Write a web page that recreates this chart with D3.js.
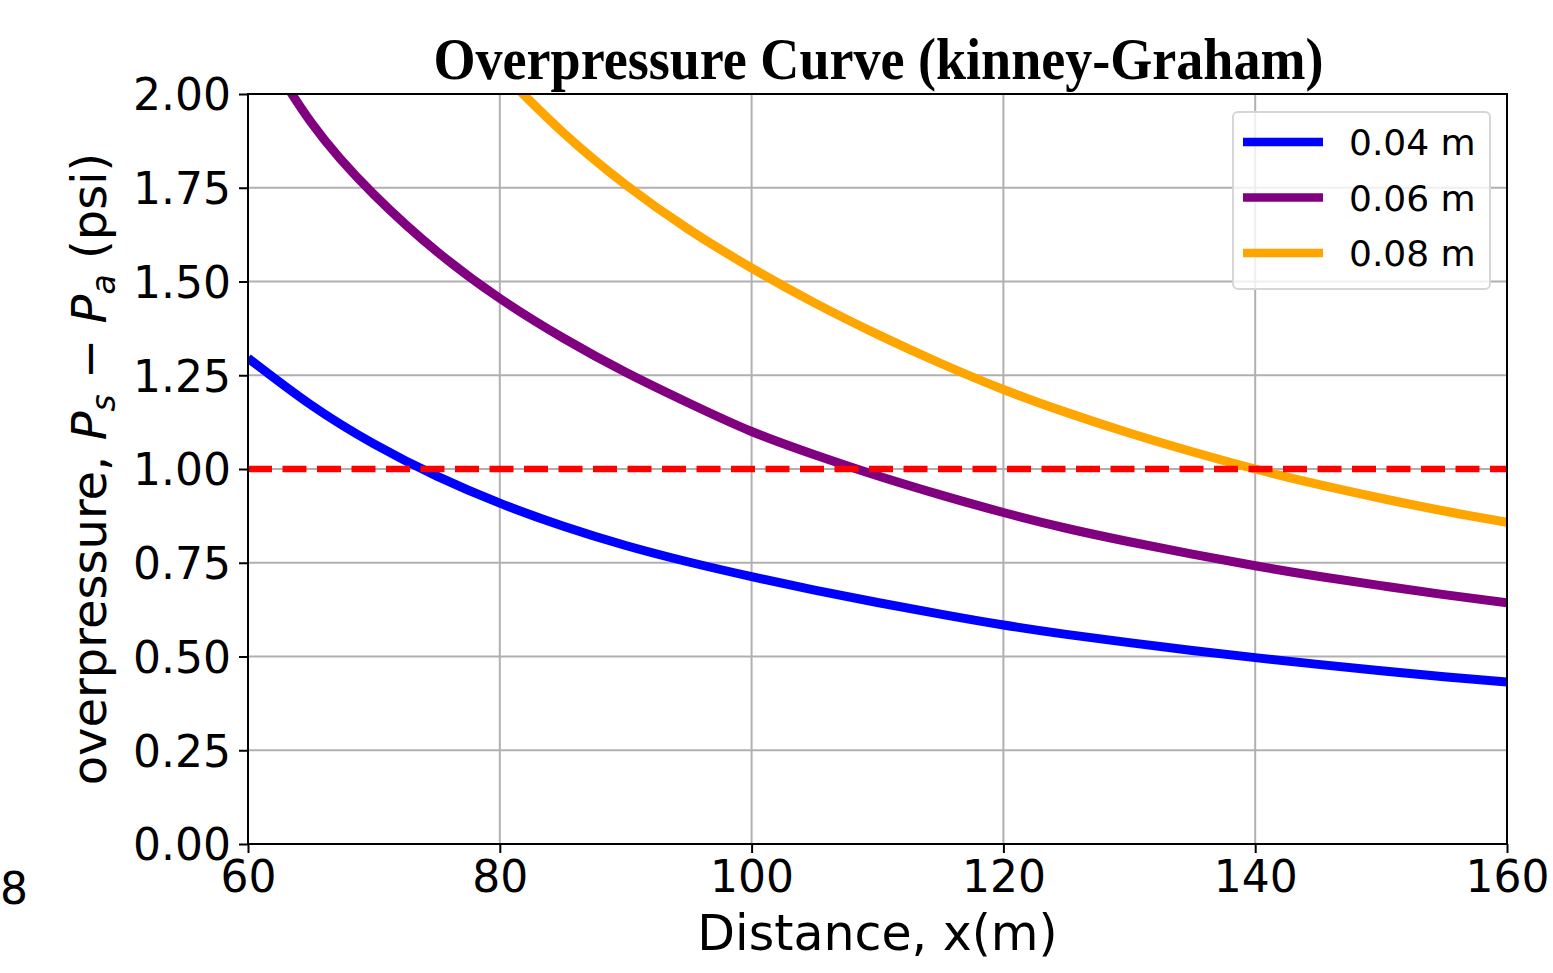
<!DOCTYPE html>
<html>
<head>
<meta charset="utf-8">
<script src="https://cdn.jsdelivr.net/npm/d3@7"></script>
<style>
body { margin: 0; background: #fff; }
svg { display: block; }
</style>
</head>
<body>
<div class="chart"></div>
<script>
var distance = [60,65,70,75,80,85,90,95,100,105,110,115,120,125,130,135,140,145,150,155,160]
var charge004 = [1.296,1.171,1.067,0.981,0.909,0.848,0.796,0.752,0.713,0.677,0.644,0.613,0.584,0.559,0.537,0.516,0.497,0.479,0.462,0.446,0.432]
var charge006 = [2.19,1.925,1.732,1.58,1.455,1.35,1.258,1.176,1.10,1.038,0.982,0.931,0.884,0.842,0.806,0.773,0.742,0.714,0.689,0.665,0.643]
var charge008 = [null,null,null,null,2.062,1.898,1.758,1.639,1.536,1.443,1.359,1.282,1.212,1.151,1.096,1.046,1.0,0.959,0.922,0.888,0.858]
var seriesNames = ["0.04 m","0.06 m","0.08 m"]
var seriesColors = ["#0000ff","#800080","#ffa500"]
var threshold = 1.0
var xTicks = [60,80,100,120,140,160]
var yTicks = [0,0.25,0.5,0.75,1.0,1.25,1.5,1.75,2.0]

var width = 1553, height = 973
var plotLeft = 248, plotRight = 1507, plotTop = 94, plotBottom = 844

var svg = d3.select(".chart").append("svg").attr("width",width).attr("height",height)

//scales
var xPos = d3.scaleLinear().domain([60,160]).range([plotLeft,plotRight])
var yPos = d3.scaleLinear().domain([0,2]).range([plotBottom,plotTop])

svg.append("defs").append("clipPath").attr("id","plotclip")
	.append("rect").attr("x",plotLeft).attr("y",plotTop).attr("width",plotRight-plotLeft).attr("height",plotBottom-plotTop)

//grid
var grid = svg.append("g").attr("class","grid")
grid.selectAll("line.gx").data(xTicks).enter().append("line")
	.attr("x1",function(d){return xPos(d)}).attr("x2",function(d){return xPos(d)})
	.attr("y1",plotTop).attr("y2",plotBottom)
	.attr("stroke","#b0b0b0").attr("stroke-width",2)
grid.selectAll("line.gy").data(yTicks).enter().append("line")
	.attr("y1",function(d){return yPos(d)}).attr("y2",function(d){return yPos(d)})
	.attr("x1",plotLeft).attr("x2",plotRight)
	.attr("stroke","#b0b0b0").attr("stroke-width",2)

//curves
var allSeries = [charge004,charge006,charge008]
var line = d3.line()
	.defined(function(d){return d[1] != null})
	.x(function(d){return xPos(d[0])})
	.y(function(d){return yPos(d[1])})
	.curve(d3.curveNatural)

var curves = svg.append("g").attr("clip-path","url(#plotclip)")
allSeries.forEach(function(values,i) {
	var pts = distance.map(function(x,j){return [x,values[j]]})
	curves.append("path").datum(pts)
		.attr("d",line)
		.attr("fill","none")
		.attr("stroke",seriesColors[i])
		.attr("stroke-width",9)
})

//threshold line
curves.append("line")
	.attr("x1",plotLeft).attr("x2",plotRight)
	.attr("y1",yPos(threshold)).attr("y2",yPos(threshold))
	.attr("stroke","#ff0000").attr("stroke-width",6.5)
	.attr("stroke-dasharray","24,10.5")

//axes
var xAxis = d3.axisBottom(xPos).tickValues(xTicks).tickSize(9).tickPadding(6).tickFormat(d3.format("d"))
var yAxis = d3.axisLeft(yPos).tickValues(yTicks).tickSize(9).tickPadding(8).tickFormat(d3.format(".2f"))

var gx = svg.append("g").attr("transform","translate(0,"+plotBottom+")").call(xAxis)
var gy = svg.append("g").attr("transform","translate("+plotLeft+",0)").call(yAxis)
;[gx,gy].forEach(function(g){
	g.select(".domain").remove()
	g.selectAll(".tick line").attr("stroke","#000").attr("stroke-width",2)
	g.selectAll(".tick text").attr("fill","#000")
		.style("font-family","'DejaVu Sans'").style("font-size","44px")
})
gx.selectAll(".tick text").attr("dy","0.76em")
gy.selectAll(".tick text").attr("dy","0.36em")

//frame
svg.append("rect").attr("x",plotLeft).attr("y",plotTop).attr("width",plotRight-plotLeft).attr("height",plotBottom-plotTop)
	.attr("fill","none").attr("stroke","#000").attr("stroke-width",2)

//title and labels
svg.append("text").attr("x",(plotLeft+plotRight)/2 + 1).attr("y",79)
	.attr("text-anchor","middle")
	.attr("textLength",890).attr("lengthAdjust","spacingAndGlyphs")
	.style("font-family","'Liberation Serif', 'Times New Roman', serif")
	.style("font-weight","bold").style("font-size","60px")
	.text("Overpressure Curve (kinney-Graham)")

svg.append("text").attr("x",(plotLeft+plotRight)/2).attr("y",950)
	.attr("text-anchor","middle")
	.style("font-family","'DejaVu Sans'").style("font-size","49px")
	.text("Distance, x(m)")

var ylab = svg.append("text")
	.attr("transform","translate(106,469) rotate(-90)")
	.attr("text-anchor","middle")
	.style("font-family","'DejaVu Sans'").style("font-size","48px")
ylab.append("tspan").text("overpressure, ")
ylab.append("tspan").style("font-style","italic").text("P")
ylab.append("tspan").style("font-style","italic").style("font-size","33px").attr("dy",9).text("s")
ylab.append("tspan").attr("dy",-9).text(" \u2212 ")
ylab.append("tspan").style("font-style","italic").text("P")
ylab.append("tspan").style("font-style","italic").style("font-size","33px").attr("dy",9).text("a")
ylab.append("tspan").attr("dy",-9).text(" (psi)")

//stray label at the left edge
svg.append("text").attr("x",0).attr("y",904)
	.style("font-family","'DejaVu Sans'").style("font-size","44px")
	.text("8")

//legend
var legend = svg.append("g").attr("class","legend")
legend.append("rect").attr("x",1233).attr("y",112).attr("width",257).attr("height",177)
	.attr("rx",5).attr("fill","#fff").attr("fill-opacity",0.8)
	.attr("stroke","#d6d6d6").attr("stroke-width",2)
seriesNames.forEach(function(name,i) {
	var cy = 142 + i*55.5
	legend.append("line").attr("x1",1243).attr("x2",1323).attr("y1",cy).attr("y2",cy)
		.attr("stroke",seriesColors[i]).attr("stroke-width",8.5)
	legend.append("text").attr("x",1349).attr("y",cy+13)
		.style("font-family","'DejaVu Sans'").style("font-size","36px")
		.text(name)
})
</script>
</body>
</html>
